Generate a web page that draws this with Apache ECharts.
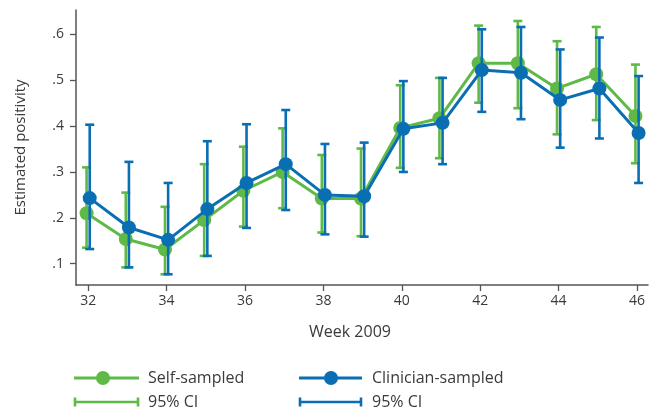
<!DOCTYPE html>
<html>
<head>
<meta charset="utf-8">
<script src="https://cdn.jsdelivr.net/npm/echarts@6/dist/echarts.min.js"></script>
<style>
html,body{margin:0;padding:0;background:#fff;}
#chart{width:650px;height:410px;}
</style>
</head>
<body>
<div id="chart"></div>
<script>
// ---- data ----
var weeks = [32,33,34,35,36,37,38,39,40,41,42,43,44,45,46];
var selfEst  = [0.210,0.154,0.131,0.195,0.259,0.300,0.242,0.242,0.396,0.417,0.537,0.537,0.482,0.513,0.422];
var selfLow  = [0.135,0.092,0.077,0.117,0.181,0.221,0.168,0.160,0.309,0.330,0.451,0.439,0.382,0.413,0.319];
var selfHigh = [0.310,0.255,0.224,0.317,0.355,0.395,0.337,0.351,0.489,0.505,0.619,0.629,0.585,0.616,0.534];
var clinEst  = [0.243,0.179,0.152,0.219,0.276,0.317,0.250,0.247,0.394,0.407,0.522,0.516,0.457,0.482,0.385];
var clinLow  = [0.132,0.092,0.077,0.117,0.178,0.217,0.164,0.159,0.300,0.317,0.431,0.415,0.353,0.373,0.276];
var clinHigh = [0.403,0.322,0.276,0.367,0.404,0.435,0.361,0.364,0.498,0.505,0.611,0.616,0.567,0.593,0.509];
var xTicks = [32,34,36,38,40,42,44,46];
var yTicks = [0.1,0.2,0.3,0.4,0.5,0.6];
var seriesNames = ['Self-sampled','Clinician-sampled'];
var ciLabel = '95% CI';
var xName = 'Week 2009';
var yName = 'Estimated positivity';

// ---- styles ----
var GREEN = '#5eb947';
var BLUE = '#0a6eb2';
var AXIS = '#555';
var TEXT = '#3a3a3a';
var FONT = 'Open Sans';
var X_MIN = 31.69, X_MAX = 46.28, DODGE = 0.04;

function pairs(xs, ys){ return xs.map(function(x,i){ return [x, ys[i]]; }); }
function triples(xs, lo, hi){ return xs.map(function(x,i){ return [x, lo[i], hi[i]]; }); }

function errorBar(color){
  return function(params, api){
    var x = api.value(0);
    var top = api.coord([x, api.value(2)]);
    var bot = api.coord([x, api.value(1)]);
    var hw = 4.5;
    var st = {stroke: color, lineWidth: 2.6};
    return {type:'group', children:[
      {type:'line', shape:{x1:top[0], y1:top[1], x2:bot[0], y2:bot[1]}, style:st},
      {type:'line', shape:{x1:top[0]-hw, y1:top[1], x2:top[0]+hw, y2:top[1]}, style:st},
      {type:'line', shape:{x1:bot[0]-hw, y1:bot[1], x2:bot[0]+hw, y2:bot[1]}, style:st}
    ]};
  };
}

var hiddenAxis = function(shift){
  return {type:'value', show:false, min:X_MIN+shift, max:X_MAX+shift,
          axisLine:{show:false}, axisTick:{show:false}, axisLabel:{show:false}, splitLine:{show:false}};
};

var LFONT = '16px "' + FONT + '"';
var chart = echarts.init(document.getElementById('chart'), null, {renderer:'canvas'});
var option = {
  animation:false,
  backgroundColor:'#fff',
  grid:{left:76, right:2, top:10, bottom:125, containLabel:false},
  xAxis:[
    {type:'value', min:X_MIN, max:X_MAX,
     name:xName, nameLocation:'middle', nameGap:39,
     nameTextStyle:{color:TEXT, fontSize:16, fontFamily:FONT, padding:[0,24,0,0]},
     axisLine:{show:true, onZero:false, lineStyle:{color:AXIS, width:1.5}},
     axisTick:{show:true, length:6, lineStyle:{color:AXIS, width:1.3}, customValues:xTicks},
     axisLabel:{color:TEXT, fontSize:14, fontFamily:FONT, margin:9, customValues:xTicks,
                formatter:function(v){ return String(Math.round(v)); }},
     splitLine:{show:false}},
    hiddenAxis(DODGE),
    hiddenAxis(-DODGE)
  ],
  yAxis:{type:'value', min:0.0536, max:0.653,
     name:yName, nameLocation:'middle', nameGap:48,
     nameTextStyle:{color:TEXT, fontSize:15, fontFamily:FONT},
     axisLine:{show:true, lineStyle:{color:AXIS, width:1.5}},
     axisTick:{show:true, length:6, lineStyle:{color:AXIS, width:1.3}, customValues:yTicks},
     axisLabel:{color:TEXT, fontSize:14, fontFamily:FONT, margin:12, customValues:yTicks,
                formatter:function(v){ return v.toFixed(1).replace(/^0/, ''); }},
     splitLine:{show:false}},
  series:[
    {type:'custom', name:seriesNames[0]+' CI', xAxisIndex:1, z:1,
     renderItem:errorBar(GREEN), data:triples(weeks, selfLow, selfHigh)},
    {type:'line', name:seriesNames[0], xAxisIndex:1, z:2,
     data:pairs(weeks, selfEst), symbol:'circle', symbolSize:14,
     lineStyle:{color:GREEN, width:3}, itemStyle:{color:GREEN}},
    {type:'custom', name:seriesNames[1]+' CI', xAxisIndex:2, z:3,
     renderItem:errorBar(BLUE), data:triples(weeks, clinLow, clinHigh)},
    {type:'line', name:seriesNames[1], xAxisIndex:2, z:4,
     data:pairs(weeks, clinEst), symbol:'circle', symbolSize:14,
     lineStyle:{color:BLUE, width:3}, itemStyle:{color:BLUE}}
  ],
  graphic:[
    // legend row 1
    {type:'line', shape:{x1:74,y1:378,x2:139,y2:378}, style:{stroke:GREEN, lineWidth:3}},
    {type:'circle', shape:{cx:103, cy:378, r:7}, style:{fill:GREEN}},
    {type:'text', x:148, y:378, style:{text:seriesNames[0], fill:TEXT, font:LFONT, verticalAlign:'middle'}},
    {type:'line', shape:{x1:299,y1:378,x2:362,y2:378}, style:{stroke:BLUE, lineWidth:3}},
    {type:'circle', shape:{cx:331, cy:378, r:7}, style:{fill:BLUE}},
    {type:'text', x:372, y:378, style:{text:seriesNames[1], fill:TEXT, font:LFONT, verticalAlign:'middle'}},
    // legend row 2
    {type:'line', shape:{x1:75,y1:402,x2:138,y2:402}, style:{stroke:GREEN, lineWidth:2.6}},
    {type:'line', shape:{x1:75,y1:397.5,x2:75,y2:406.5}, style:{stroke:GREEN, lineWidth:2.6}},
    {type:'line', shape:{x1:138,y1:397.5,x2:138,y2:406.5}, style:{stroke:GREEN, lineWidth:2.6}},
    {type:'text', x:148, y:402, style:{text:ciLabel, fill:TEXT, font:LFONT, verticalAlign:'middle'}},
    {type:'line', shape:{x1:300,y1:402,x2:361,y2:402}, style:{stroke:BLUE, lineWidth:2.6}},
    {type:'line', shape:{x1:300,y1:397.5,x2:300,y2:406.5}, style:{stroke:BLUE, lineWidth:2.6}},
    {type:'line', shape:{x1:361,y1:397.5,x2:361,y2:406.5}, style:{stroke:BLUE, lineWidth:2.6}},
    {type:'text', x:372, y:402, style:{text:ciLabel, fill:TEXT, font:LFONT, verticalAlign:'middle'}}
  ]
};
chart.setOption(option);
</script>
</body>
</html>
